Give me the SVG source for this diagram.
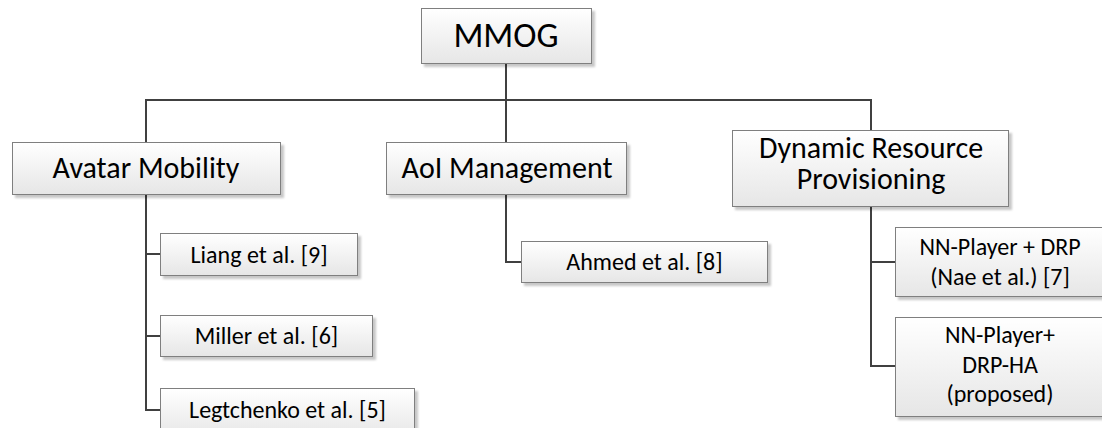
<svg xmlns="http://www.w3.org/2000/svg" width="1102" height="428" viewBox="0 0 1102 428">
  <defs>
    <linearGradient id="boxFill" x1="0" y1="0" x2="0" y2="1">
      <stop offset="0" stop-color="#ffffff"/>
      <stop offset="1" stop-color="#e6e6e6"/>
    </linearGradient>
    <filter id="shadow" x="-10%" y="-10%" width="130%" height="140%">
      <feDropShadow dx="3" dy="3" stdDeviation="1.2" flood-color="#000000" flood-opacity="0.22"/>
    </filter>
  </defs>
  <style>
    .box { fill: url(#boxFill); stroke: #7f7f7f; stroke-width: 1; filter: url(#shadow); }
    .lbl { font-family: Carlito, Lato, "Open Sans", sans-serif; fill: #000000; text-anchor: middle; }
    .big { font-size: 35px; }
    .mid { font-size: 30px; }
    .small { font-size: 24px; }
    .wire { fill: none; stroke: #404040; stroke-width: 2; }
  </style>
  <rect width="1102" height="428" fill="#ffffff"/>

  <!-- tree connectors -->
  <g id="connectors">
    <path class="wire" d="M506,64 V142"/>
    <path class="wire" d="M146,142 V100 H871 V130"/>
    <path class="wire" d="M146,195 V410 H160 M146,254 H160 M146,336 H160"/>
    <path class="wire" d="M506,195 V262 H521"/>
    <path class="wire" d="M871,207 V366 H895 M871,262 H895"/>
  </g>

  <g id="mmog">
    <rect class="box" x="421.5" y="8.5" width="170" height="55"/>
    <text class="lbl big" x="506" y="47">MMOG</text>
  </g>

  <g id="avatar-mobility">
    <rect class="box" x="12.5" y="142.5" width="268" height="52"/>
    <text class="lbl mid" x="146" y="178">Avatar Mobility</text>
  </g>

  <g id="aoi-management">
    <rect class="box" x="386.5" y="142.5" width="240" height="52"/>
    <text class="lbl mid" x="507" y="178">AoI Management</text>
  </g>

  <g id="dynamic-resource-provisioning">
    <rect class="box" x="732.5" y="130.5" width="276" height="76"/>
    <text class="lbl mid" x="871" y="158">Dynamic Resource</text>
    <text class="lbl mid" x="871" y="189">Provisioning</text>
  </g>

  <g id="liang">
    <rect class="box" x="160.5" y="233.5" width="197" height="42"/>
    <text class="lbl small" x="259" y="263">Liang et al. [9]</text>
  </g>

  <g id="miller">
    <rect class="box" x="160.5" y="315.5" width="212" height="41"/>
    <text class="lbl small" x="266.5" y="344">Miller et al. [6]</text>
  </g>

  <g id="legtchenko">
    <rect class="box" x="160.5" y="388.5" width="254" height="50"/>
    <text class="lbl small" x="287.5" y="418">Legtchenko et al. [5]</text>
  </g>

  <g id="ahmed">
    <rect class="box" x="521.5" y="241.5" width="246" height="41"/>
    <text class="lbl small" x="644.5" y="270">Ahmed et al. [8]</text>
  </g>

  <g id="nn-player-drp">
    <rect class="box" x="895.5" y="227.5" width="210" height="69"/>
    <text class="lbl small" x="1000" y="255">NN-Player + DRP</text>
    <text class="lbl small" x="1000" y="285">(Nae et al.) [7]</text>
  </g>

  <g id="nn-player-drp-ha">
    <rect class="box" x="895.5" y="317.5" width="210" height="99"/>
    <text class="lbl small" x="1000" y="343">NN-Player+</text>
    <text class="lbl small" x="1000" y="373">DRP-HA</text>
    <text class="lbl small" x="1000" y="402">(proposed)</text>
  </g>
</svg>
